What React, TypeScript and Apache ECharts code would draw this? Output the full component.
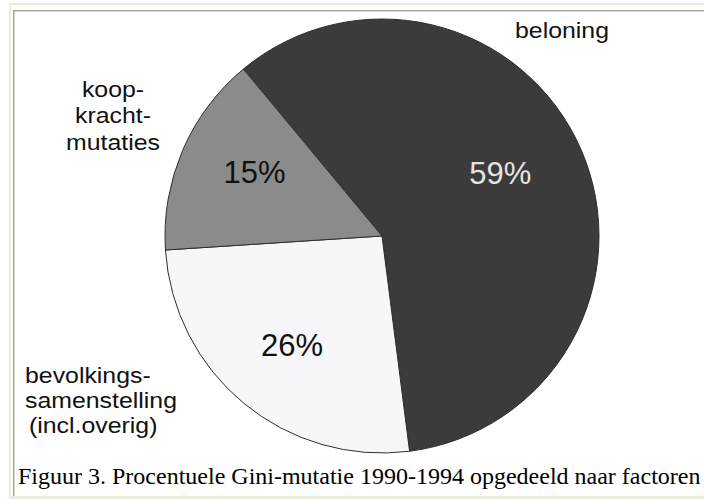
import React, { useEffect, useRef } from "react";
import * as echarts from "echarts";

const categories = ["beloning", "bevolkings-\nsamenstelling\n(incl.overig)", "koop-\nkracht-\nmutaties"];
const values = [59, 26, 15];
const sliceColors = ["#3b3b3b", "#f7f6f8", "#8b8b8b"];
const percentColors = ["#e4e4e4", "#111111", "#111111"];
const caption = "Figuur 3. Procentuele Gini-mutatie 1990-1994 opgedeeld naar factoren";

// layout tweaks for the percentage labels (dx, dy from the default inside position)
const labelShift = [
  [16, -18],
  [-19, 23],
  [-25, -19],
];

// name label placement: anchor x, first baseline, line step, alignment, per-line indent
const nameLayout = [
  { x: 562, y0: 38, step: 0, align: "center", indent: [0] },
  { x: 25, y0: 383, step: 25, align: "left", indent: [0, 0, 4] },
  { x: 113, y0: 97, step: 26.5, align: "center", indent: [0, 0, 0] },
];

export default function App() {
  const ref = useRef<HTMLDivElement>(null);
  useEffect(() => {
    if (!ref.current) return;
    const chart = echarts.init(ref.current, null, { renderer: "svg" });
    const sans = "'Liberation Sans', Arial, sans-serif";
    const nameSize = 22;
    const nameTexts: any[] = [];
    categories.forEach((c, i) => {
      const L = nameLayout[i];
      c.split("\n").forEach((line, j) => {
        nameTexts.push({
          type: "text",
          x: L.x + (L.indent[j] || 0),
          y: L.y0 + j * L.step - 0.3465 * nameSize,
          scaleX: 1.13,
          silent: true,
          style: {
            text: line,
            font: `${nameSize}px ${sans}`,
            fill: "#111",
            align: L.align,
            verticalAlign: "middle",
          },
        });
      });
    });
    chart.setOption({
      animation: false,
      backgroundColor: "#ffffff",
      series: [
        {
          type: "pie",
          center: [382, 236],
          radius: 217,
          startAngle: 129.7,
          clockwise: true,
          silent: true,
          itemStyle: { borderColor: "#2e2e2e", borderWidth: 1 },
          label: {
            show: true,
            position: "inside",
            formatter: (p: any) => `${p.value}%`,
            fontFamily: sans,
            fontSize: 31,
          },
          labelLine: { show: false },
          labelLayout: (p: any) => ({ dx: labelShift[p.dataIndex][0], dy: labelShift[p.dataIndex][1] }),
          data: categories.map((c, i) => ({
            name: c,
            value: values[i],
            itemStyle: { color: sliceColors[i] },
            label: { color: percentColors[i] },
          })),
        },
      ],
      graphic: [
        { type: "rect", shape: { x: 9, y: 3, width: 695, height: 2 }, style: { fill: "#efebdc" }, silent: true },
        { type: "rect", shape: { x: 9, y: 3, width: 2, height: 496 }, style: { fill: "#efebdc" }, silent: true },
        { type: "rect", shape: { x: 9, y: 496, width: 695, height: 3 }, style: { fill: "#efebdc" }, silent: true },
        { type: "rect", shape: { x: 13, y: 10, width: 691, height: 1.5 }, style: { fill: "#aca899" }, silent: true },
        { type: "rect", shape: { x: 13, y: 10, width: 1.5, height: 486 }, style: { fill: "#aca899" }, silent: true },
        ...nameTexts,
        {
          type: "text",
          x: 18,
          y: 484 - 0.3375 * 24,
          silent: true,
          style: {
            text: caption,
            font: `24px 'Liberation Serif', 'Times New Roman', serif`,
            fill: "#000",
            align: "left",
            verticalAlign: "middle",
          },
        },
      ],
    });
    return () => chart.dispose();
  }, []);
  return <div ref={ref} style={{ position: "fixed", left: 0, top: 0, width: 704, height: 499 }} />;
}
